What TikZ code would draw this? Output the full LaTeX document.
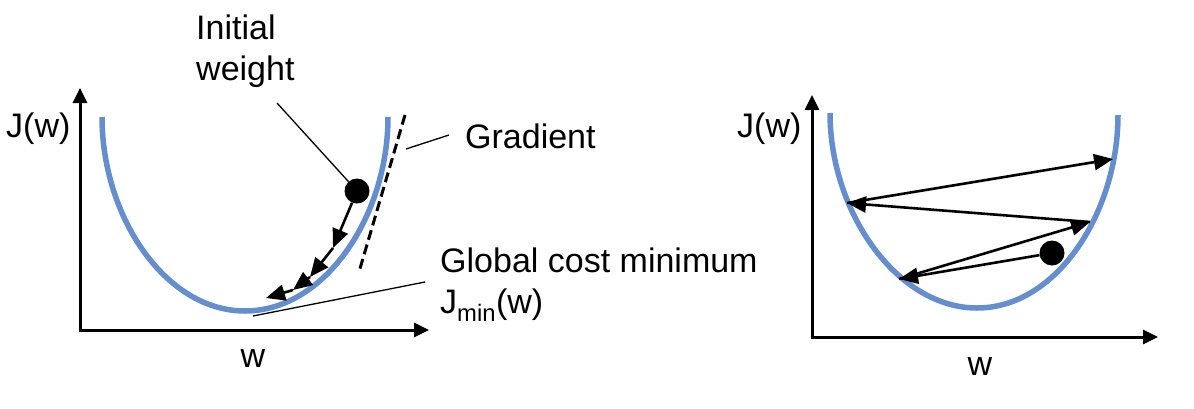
\documentclass[tikz,border=0pt]{standalone}
\usepackage{fontspec}
\setmainfont{Liberation Sans}
\usetikzlibrary{arrows.meta}
\definecolor{cblue}{RGB}{101,142,207}
\tikzset{ax/.style={line width=3pt,{Triangle[length=15pt,width=14pt]}-{Triangle[length=15pt,width=14pt]}},
 cv/.style={draw=cblue,line width=5.5pt},
 ar/.style={line width=2.6pt,-{Triangle[length=19pt,width=16pt]}},
 ld/.style={line width=1.3pt},
 tg/.style={line width=3pt,dash pattern=on 10pt off 5pt},
 ball/.style={circle,fill=black,inner sep=0pt,minimum size=25pt},
 lb/.style={inner sep=0pt,font=\fontsize{34}{41}\selectfont,align=left}}

\begin{document}
\begin{tikzpicture}[x=1pt,y=-1pt]
\useasboundingbox (0,0) rectangle (1194,408);
\coordinate (lo) at (80,330);\coordinate (ly) at (80,88);\coordinate (lx) at (429,330);
\coordinate (ro) at (812,337);\coordinate (ry) at (812,95);\coordinate (rx) at (1158,337);
\draw[ax](ly)--(lo)--(lx);
\draw[ax](ry)--(ro)--(rx);
\draw[cv](102,117) .. controls (102,216) and (165,311) .. (245,311) .. controls (325,311) and (388,216) .. (388,117);
\draw[cv](830,113) .. controls (830,212) and (897,308) .. (977,308) .. controls (1057,308) and (1118,212) .. (1118,115);
\node[lb,anchor=base west](jl) at (6,137){J(w)};
\node[lb,anchor=base](wl) at (253,367){w};
\node[lb,anchor=base west](jr) at (737,137){J(w)};
\node[lb,anchor=base](wr) at (980,375){w};
\node[lb,anchor=base west](init) at (196,80){Initial\\weight};
\node[lb,anchor=base west](grad) at (465,148){Gradient};
\node[lb,anchor=base west](glob) at (440,313){Global cost minimum\\J\textsubscript{min}(w)};
\node[ball](w0) at (357,191){};
\coordinate (a1) at (333,248);\coordinate (a2) at (310,277);\coordinate (a3) at (293,290);\coordinate (a4) at (266,298);
\draw[ar](w0)--(a1);\draw[ar](a1)--(a2);\draw[ar](a2)--(a3);\draw[ar](a3)--(a4);
\coordinate (t1) at (405,115);\coordinate (t2) at (359,272);
\draw[tg](t1)--(t2);
\coordinate (iw) at (277,103);\draw[ld](iw)--(w0);
\coordinate (g1) at (406,149);\coordinate (g2) at (449,135);\draw[ld](g1)--(g2);
\coordinate (m1) at (253,316);\coordinate (m2) at (425,282);\draw[ld](m1)--(m2);
\node[ball](v0) at (1052,253){};
\coordinate (b1) at (899,279);\coordinate (b2) at (1090,222);\coordinate (b3) at (847,203);\coordinate (b4) at (1113,159);
\draw[ar](v0)--(b1);\draw[ar](b1)--(b2);\draw[ar](b2)--(b3);\draw[ar](b3)--(b4);
\end{tikzpicture}
\end{document}
